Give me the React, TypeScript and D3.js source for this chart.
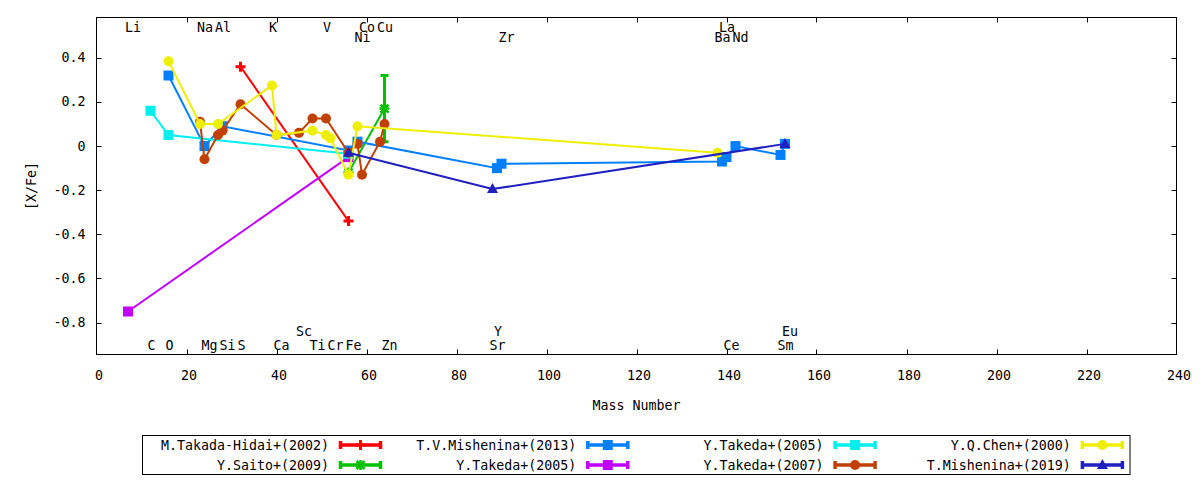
import React, { useRef, useEffect } from "react";
import * as d3 from "d3";

// [mass number, [X/Fe]]
const takadaHidai2002: [number, number][] = [[32, 0.36], [56, -0.34]];
const saito2009: [number, number][] = [[56, -0.12], [64, 0.17]];
const saito2009Err = [0, 0.15];
const mishenina2013: [number, number][] = [
  [16, 0.32], [24, 0.0], [28, 0.09], [56, -0.02], [58, 0.02], [89, -0.1],
  [90, -0.08], [139, -0.07], [140, -0.05], [142, 0.0], [152, -0.04], [153, 0.01],
];
const takeda2005a: [number, number][] = [[7, -0.75], [56, -0.05]];
const takeda2005b: [number, number][] = [[12, 0.16], [16, 0.05], [56, -0.035]];
const takeda2007: [number, number][] = [
  [23, 0.11], [24, -0.06], [27, 0.05], [28, 0.07], [32, 0.19], [40, 0.05],
  [45, 0.06], [48, 0.125], [51, 0.125], [56, -0.03], [58, 0.01], [59, -0.13],
  [63, 0.02], [64, 0.1],
];
const chen2000: [number, number][] = [
  [16, 0.385], [23, 0.1], [27, 0.1], [39, 0.275], [40, 0.05], [48, 0.07],
  [51, 0.05], [52, 0.035], [56, -0.13], [58, 0.09], [138, -0.03],
];
const mishenina2019: [number, number][] = [[56, -0.03], [88, -0.195], [153, 0.01]];

// element labels: name, mass number, row (0,1 = top; 2,3 = bottom)
const elementNames = [
  "Li", "Na", "Al", "K", "V", "Co", "Cu", "La",
  "Ni", "Zr", "Ba", "Nd",
  "Sc", "Y", "Eu",
  "C", "O", "Mg", "Si", "S", "Ca", "Ti", "Cr", "Fe", "Zn", "Sr", "Ce", "Sm",
];
const elementMass = [
  7, 23, 27, 39, 51, 59, 63, 139,
  58, 90, 138, 142,
  45, 89, 153,
  12, 16, 24, 28, 32, 40, 48, 52, 56, 64, 88, 140, 152,
];
const elementRow = [
  0, 0, 0, 0, 0, 0, 0, 0,
  1, 1, 1, 1,
  2, 2, 2,
  3, 3, 3, 3, 3, 3, 3, 3, 3, 3, 3, 3, 3,
];

const xTicks = d3.range(0, 241, 20);
const yTicks = [-0.8, -0.6, -0.4, -0.2, 0, 0.2, 0.4];

type Marker = "plus" | "star" | "square" | "circle" | "triangle";

interface Series {
  label: string;
  data: [number, number][];
  err?: number[];
  color: string;
  marker: Marker;
}

const series: Series[] = [
  { label: "M.Takada-Hidai+(2002)", data: takadaHidai2002, color: "#ff0000", marker: "plus" },
  { label: "Y.Saito+(2009)", data: saito2009, err: saito2009Err, color: "#00c000", marker: "star" },
  { label: "T.V.Mishenina+(2013)", data: mishenina2013, color: "#0080ff", marker: "square" },
  { label: "Y.Takeda+(2005)", data: takeda2005a, color: "#c000ff", marker: "square" },
  { label: "Y.Takeda+(2005)", data: takeda2005b, color: "#00eeee", marker: "square" },
  { label: "Y.Takeda+(2007)", data: takeda2007, color: "#c04000", marker: "circle" },
  { label: "Y.Q.Chen+(2000)", data: chen2000, color: "#eeee00", marker: "circle" },
  { label: "T.Mishenina+(2019)", data: mishenina2019, color: "#2020c0", marker: "triangle" },
];

const W = 1200;
const H = 480;
const FONT = "'DejaVu Sans Mono', monospace";

function drawMarker(
  g: d3.Selection<SVGGElement, unknown, null, undefined>,
  kind: Marker,
  cx: number,
  cy: number,
  color: string
) {
  if (kind === "plus" || kind === "star") {
    const s = 5;
    const sw = kind === "plus" ? 3 : 2.5;
    g.append("path")
      .attr("d", `M${cx - s},${cy}H${cx + s}M${cx},${cy - s}V${cy + s}`)
      .attr("stroke", color)
      .attr("stroke-width", sw)
      .attr("fill", "none");
    if (kind === "star") {
      const d = 4;
      g.append("path")
        .attr("d", `M${cx - d},${cy - d}L${cx + d},${cy + d}M${cx - d},${cy + d}L${cx + d},${cy - d}`)
        .attr("stroke", color)
        .attr("stroke-width", sw)
        .attr("fill", "none");
    }
  } else if (kind === "square") {
    g.append("rect")
      .attr("x", cx - 5)
      .attr("y", cy - 5)
      .attr("width", 10)
      .attr("height", 10)
      .attr("fill", color);
  } else if (kind === "circle") {
    g.append("circle").attr("cx", cx).attr("cy", cy).attr("r", 5).attr("fill", color);
  } else {
    g.append("path")
      .attr("d", `M${cx},${cy - 6}L${cx + 5.5},${cy + 4}L${cx - 5.5},${cy + 4}Z`)
      .attr("fill", color);
  }
}

const App: React.FC = () => {
  const svgRef = useRef<SVGSVGElement>(null);

  useEffect(() => {
    document.body.style.margin = "0";
    if (!svgRef.current) return;
    const svg = d3.select(svgRef.current);
    svg.selectAll("*").remove();

    const left = 96.5;
    const right = 1176.5;
    const top = 17.5;
    const bottom = 354.5;

    const x = d3.scaleLinear().domain([0, 240]).range([left, right]);
    const y = d3.scaleLinear().domain([-0.945, 0.583]).range([bottom, top]);

    const root = svg.append("g").attr("font-family", FONT).attr("font-size", 13.3);

    // frame
    root
      .append("rect")
      .attr("x", left)
      .attr("y", top)
      .attr("width", right - left)
      .attr("height", bottom - top)
      .attr("fill", "none")
      .attr("stroke", "#000")
      .attr("stroke-width", 1);

    const tickLen = 5;
    xTicks.forEach((t) => {
      const px = Math.round(x(t)) + 0.5;
      if (t > 0 && t < 240) {
        root.append("line").attr("x1", px).attr("x2", px).attr("y1", bottom).attr("y2", bottom - tickLen).attr("stroke", "#000");
        root.append("line").attr("x1", px).attr("x2", px).attr("y1", top).attr("y2", top + tickLen).attr("stroke", "#000");
      }
      root.append("text").attr("x", x(t) + 2.5).attr("y", 380).attr("text-anchor", "middle").text(String(t));
    });

    yTicks.forEach((t) => {
      const py = Math.round(y(t)) + 0.5;
      root.append("line").attr("x1", left).attr("x2", left + tickLen).attr("y1", py).attr("y2", py).attr("stroke", "#000");
      root.append("line").attr("x1", right).attr("x2", right - tickLen).attr("y1", py).attr("y2", py).attr("stroke", "#000");
      root
        .append("text")
        .attr("x", 85.5)
        .attr("y", y(t) + 4.5)
        .attr("text-anchor", "end")
        .text(t === 0 ? "0" : String(t));
    });

    root
      .append("text")
      .attr("x", (left + right) / 2)
      .attr("y", 410)
      .attr("text-anchor", "middle")
      .text("Mass Number");

    root
      .append("text")
      .attr("transform", `translate(36,${(top + bottom) / 2}) rotate(-90)`)
      .attr("text-anchor", "middle")
      .text("[X/Fe]");

    // element labels
    const rowBase = [32, 42, 336, 350];
    elementNames.forEach((name, i) => {
      root
        .append("text")
        .attr("x", x(elementMass[i]) - 3)
        .attr("y", rowBase[elementRow[i]])
        .attr("text-anchor", "start")
        .text(name);
    });

    // series
    const line = d3
      .line<[number, number]>()
      .x((d) => x(d[0]))
      .y((d) => y(d[1]));

    series.forEach((s) => {
      const g = root.append("g");
      g.append("path")
        .datum(s.data)
        .attr("d", line)
        .attr("fill", "none")
        .attr("stroke", s.color)
        .attr("stroke-width", 2);

      if (s.err) {
        s.data.forEach((d, i) => {
          const e = s.err![i];
          if (!e) return;
          const px = x(d[0]);
          const y1 = y(d[1] + e);
          const y0 = y(d[1] - e);
          g.append("path")
            .attr("d", `M${px},${y1}V${y0}M${px - 4},${y1}H${px + 4}M${px - 4},${y0}H${px + 4}`)
            .attr("stroke", s.color)
            .attr("stroke-width", 3)
            .attr("fill", "none");
        });
      }

      s.data.forEach((d) => drawMarker(g, s.marker, x(d[0]), y(d[1]), s.color));
    });

    // legend
    root
      .append("rect")
      .attr("x", 142.5)
      .attr("y", 435.5)
      .attr("width", 987.5)
      .attr("height", 39)
      .attr("fill", "none")
      .attr("stroke", "#000");

    series.forEach((s, i) => {
      const col = Math.floor(i / 2);
      const row = i % 2;
      const textEnd = 329 + col * 247.3;
      const cy = 445 + row * 20;
      root
        .append("text")
        .attr("x", textEnd)
        .attr("y", cy + 4.5)
        .attr("text-anchor", "end")
        .text(s.label);
      const x0 = textEnd + 10;
      const x1 = textEnd + 53;
      const lg = root.append("g");
      lg.append("path")
        .attr("d", `M${x0},${cy}H${x1}M${x0 + 1.5},${cy - 4}V${cy + 4}M${x1 - 1.5},${cy - 4}V${cy + 4}`)
        .attr("stroke", s.color)
        .attr("stroke-width", 3.5)
        .attr("fill", "none");
      drawMarker(lg, s.marker, (x0 + x1) / 2, cy, s.color);
    });
  }, []);

  return (
    <svg
      ref={svgRef}
      width={W}
      height={H}
      style={{ position: "absolute", left: 0, top: 0, background: "#fff" }}
    />
  );
};

export default App;
